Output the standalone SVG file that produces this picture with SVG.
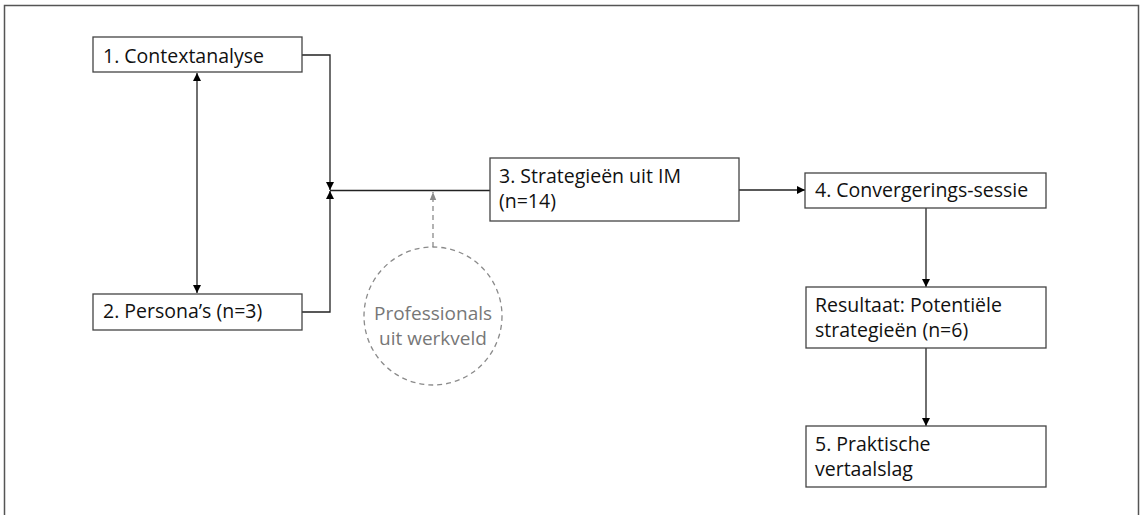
<svg xmlns="http://www.w3.org/2000/svg" width="1143" height="515" viewBox="0 0 1143 515">
<defs>
<marker id="ah" viewBox="0 0 10 10" refX="10" refY="5" markerWidth="8" markerHeight="8" markerUnits="userSpaceOnUse" orient="auto"><path d="M0,0 L10,5 L0,10 z" fill="#000"/></marker>
<marker id="ahg" viewBox="0 0 10 10" refX="10" refY="5" markerWidth="8" markerHeight="8" markerUnits="userSpaceOnUse" orient="auto"><path d="M0,1 L10,5 L0,9 z" fill="#8a8a8a"/></marker>
</defs>
<style>
.box{fill:#fff;stroke:#444;stroke-width:1.3}
.t{font-family:"Open Sans","Noto Sans","Liberation Sans",sans-serif;font-size:19.5px;fill:#111}
.p{font-family:"Open Sans","Noto Sans","Liberation Sans",sans-serif;font-size:19px;fill:#777}
.c{fill:none;stroke:#222;stroke-width:1.3}
</style>
<rect width="1143" height="515" fill="#fff"/>
<path d="M4.5,515 V5.5 H1138.5 V515" fill="none" stroke="#555" stroke-width="1.5"/>
<g id="connectors">
<line class="c" x1="197" y1="90" x2="197" y2="73" marker-end="url(#ah)"/>
<line class="c" x1="197" y1="90" x2="197" y2="293" marker-end="url(#ah)"/>
<polyline class="c" points="302,55 330,55 330,190" marker-end="url(#ah)"/>
<polyline class="c" points="302,312 330,312 330,191" marker-end="url(#ah)"/>
<line class="c" x1="330" y1="190.5" x2="490" y2="190.5"/>
<line x1="433" y1="247" x2="433" y2="192" stroke="#8a8a8a" stroke-width="1.3" stroke-dasharray="5,4" marker-end="url(#ahg)"/>
<line class="c" x1="739" y1="190" x2="805" y2="190" marker-end="url(#ah)"/>
<line class="c" x1="926" y1="208" x2="926" y2="287" marker-end="url(#ah)"/>
<line class="c" x1="926" y1="348" x2="926" y2="426" marker-end="url(#ah)"/>
</g>
<g id="n1"><rect class="box" x="93" y="37" width="209" height="35"/><text class="t" x="103" y="63">1. Contextanalyse</text></g>
<g id="n2"><rect class="box" x="93" y="294" width="209" height="36"/><text class="t" x="103" y="318">2. Persona’s (n=3)</text></g>
<g id="n3"><rect class="box" x="490" y="158" width="249" height="63"/><text class="t" x="499" y="183">3. Strategieën uit IM</text><text class="t" x="499" y="208">(n=14)</text></g>
<g id="n4"><rect class="box" x="805" y="173" width="241" height="35"/><text class="t" x="815" y="197">4. Convergerings-sessie</text></g>
<g id="nr"><rect class="box" x="806" y="287" width="240" height="61"/><text class="t" x="815" y="312">Resultaat: Potentiële</text><text class="t" x="815" y="337">strategieën (n=6)</text></g>
<g id="n5"><rect class="box" x="806" y="426" width="240" height="61"/><text class="t" x="815" y="451">5. Praktische</text><text class="t" x="815" y="476">vertaalslag</text></g>
<g id="np"><circle cx="433" cy="316" r="69" fill="#fff" stroke="#8a8a8a" stroke-width="1.3" stroke-dasharray="5,4"/><text class="p" x="433" y="320" text-anchor="middle">Professionals</text><text class="p" x="433" y="345" text-anchor="middle">uit werkveld</text></g>
</svg>
